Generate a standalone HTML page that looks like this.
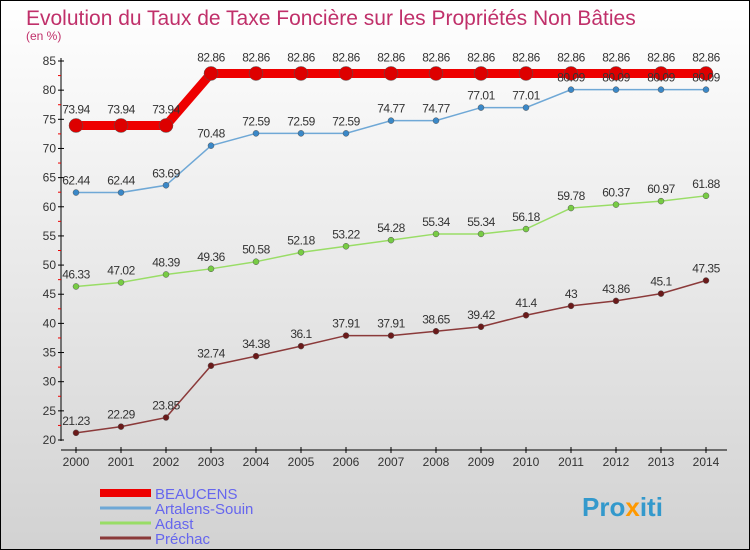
<!DOCTYPE html>
<html><head><meta charset="utf-8"><style>
body{margin:0}
svg{display:block;font-family:"Liberation Sans",sans-serif}
</style></head><body>
<svg width="750" height="550" viewBox="0 0 750 550">
<defs><linearGradient id="bg" x1="0" y1="0" x2="0" y2="1"><stop offset="0" stop-color="#ffffff"/><stop offset="1" stop-color="#d2d2d2"/></linearGradient></defs>
<rect x="0.5" y="0.5" width="749" height="549" fill="url(#bg)" stroke="#000"/>
<text x="26" y="25" font-size="21" fill="#c0306a">Evolution du Taux de Taxe Foncière sur les Propriétés Non Bâties</text>
<text x="26" y="40" font-size="12" fill="#c0306a">(en %)</text>
<g id="axes"></g><g id="series"></g><g id="legend"></g>
<text x="582" y="516" font-size="26" font-weight="bold" fill="#3399cc">Pro<tspan fill="#ff9900">x</tspan>iti</text>
</svg>
<script>
const years=[2000,2001,2002,2003,2004,2005,2006,2007,2008,2009,2010,2011,2012,2013,2014];
const yTicks=[20,25,30,35,40,45,50,55,60,65,70,75,80,85];
const beaucens=[73.94,73.94,73.94,82.86,82.86,82.86,82.86,82.86,82.86,82.86,82.86,82.86,82.86,82.86,82.86];
const artalens=[62.44,62.44,63.69,70.48,72.59,72.59,72.59,74.77,74.77,77.01,77.01,80.09,80.09,80.09,80.09];
const adast=[46.33,47.02,48.39,49.36,50.58,52.18,53.22,54.28,55.34,55.34,56.18,59.78,60.37,60.97,61.88];
const prechac=[21.23,22.29,23.85,32.74,34.38,36.1,37.91,37.91,38.65,39.42,41.4,43,43.86,45.1,47.35];
const names=["BEAUCENS","Artalens-Souin","Adast","Préchac"];
const NS="http://www.w3.org/2000/svg";
const X=i=>76+i*45, Y=v=>440-(v-20)*(379/65);
function mk(p,t,a){const e=document.createElementNS(NS,t);for(const k in a)e.setAttribute(k,a[k]);p.appendChild(e);return e;}
const ax=document.getElementById('axes');
let l=mk(ax,'line',{x1:61,y1:58,x2:61,y2:441,stroke:'#000'});

l=mk(ax,'line',{x1:61,y1:450,x2:727,y2:450,stroke:'#000'});

yTicks.forEach(v=>{mk(ax,'line',{x1:58,y1:Y(v),x2:64,y2:Y(v),stroke:'#000'});
 if(v<85)mk(ax,'line',{x1:58,y1:Y(v+2.5),x2:61,y2:Y(v+2.5),stroke:'#e00'});
 const t=mk(ax,'text',{x:56,y:Y(v)+4,'font-size':12,'text-anchor':'end',fill:'#333'});t.textContent=v;
 });
years.forEach((y,i)=>{mk(ax,'line',{x1:X(i),y1:447,x2:X(i),y2:453,stroke:'#000'});
 const t=mk(ax,'text',{x:X(i),y:466,'font-size':12,'text-anchor':'middle',fill:'#333'});t.textContent=y;
 });
const sg=document.getElementById('series');
const defs=[[beaucens,'#ee0000','#dd0000',9,7,'beaucens'],[artalens,'#6fa8d6','#3a88c8',1.5,3,'artalens-souin'],[adast,'#99dd66','#77cc44',1.5,3,'adast'],[prechac,'#8b3a3a','#6b1a1a',1.5,3,'prechac']];
defs.forEach(([d,c,mc,w,r,n])=>{
 const p=mk(sg,'polyline',{points:d.map((v,i)=>X(i)+','+Y(v)).join(' '),fill:'none',stroke:c,'stroke-width':w});
 
 d.forEach((v,i)=>{const m=mk(sg,'circle',{cx:X(i),cy:Y(v),r:r,fill:mc,stroke:'#555','stroke-width':0.5});
  
  const t=mk(sg,'text',{x:X(i),y:Y(v)-(n==='beaucens'?12:8),'font-size':12,'text-anchor':'middle',fill:'#333','letter-spacing':'-0.5'});t.textContent=v;
  });
});
const lg=document.getElementById('legend');
defs.forEach(([d,c,mc,w,r,n],k)=>{const yy=493+k*15;
 const s=mk(lg,'line',{x1:100,y1:yy,x2:151,y2:yy,stroke:c,'stroke-width':k===0?8:3});
 
 const t=mk(lg,'text',{x:155,y:yy+6,'font-size':15,fill:'#6666ee'});t.textContent=names[k];
 });
</script>
</body></html>
